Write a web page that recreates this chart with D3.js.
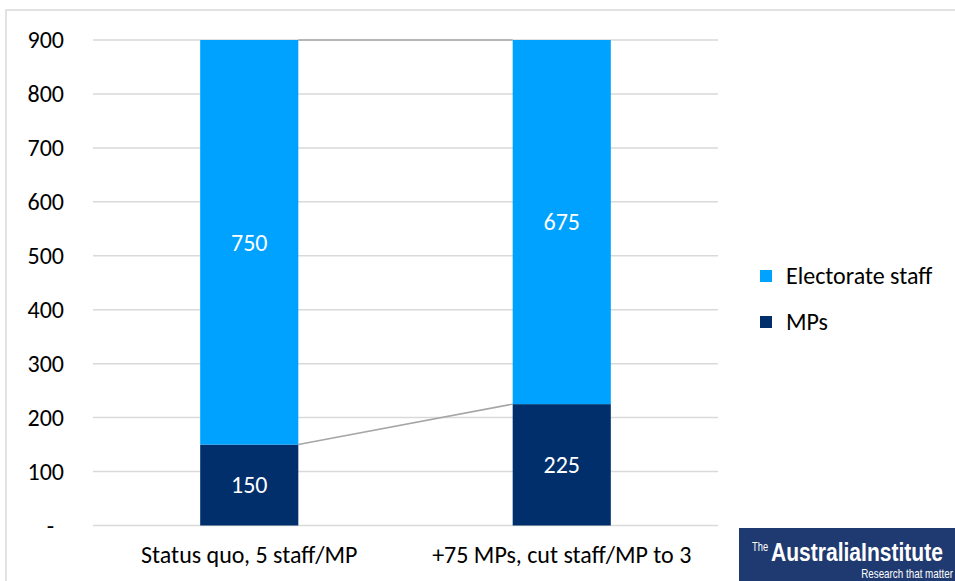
<!DOCTYPE html>
<html>
<head>
<meta charset="utf-8">
<script src="https://cdn.jsdelivr.net/npm/d3@7"></script>
<style>
  html, body { margin: 0; padding: 0; background: #fff; }
  svg { display: block; font-family: Calibri, Carlito, "Open Sans", "Noto Sans", sans-serif; }
</style>
</head>
<body>
<svg id="chart" width="955" height="581"></svg>
<script>
// Staff numbers under two scenarios
const categories = ["Status quo, 5 staff/MP", "+75 MPs, cut staff/MP to 3"];
const seriesNames = ["MPs", "Electorate staff"];
const mps = [150, 225];
const electorateStaff = [750, 675];
const yTicks = [0, 100, 200, 300, 400, 500, 600, 700, 800, 900];
const yTickLabels = ["-", "100", "200", "300", "400", "500", "600", "700", "800", "900"];
const colors = { "MPs": "#002f6c", "Electorate staff": "#00a2ff" };

const svg = d3.select("#chart");
const W = 955, H = 581;
const FS = 24;

// outer frame
svg.append("rect").attr("x", 6).attr("y", 10).attr("width", W + 10).attr("height", H + 10)
  .attr("fill", "#fff").attr("stroke", "#d9d9d9").attr("stroke-width", 1.5);

const x = d3.scaleBand().domain(categories).range([93, 718])
  .paddingInner(0.686).paddingOuter(0.343);
const y = d3.scaleLinear().domain([0, 900]).range([525.5, 40]);

// gridlines
svg.append("g").selectAll("line").data(yTicks).join("line")
  .attr("x1", 93).attr("x2", 718)
  .attr("y1", d => y(d)).attr("y2", d => y(d))
  .attr("stroke", "#d9d9d9").attr("stroke-width", 1.5);

// y axis labels
svg.append("g").selectAll("text").data(yTicks).join("text")
  .attr("x", d => d === 0 ? 54 : 64)
  .attr("y", d => y(d))
  .attr("dy", "0.35em")
  .attr("text-anchor", "end")
  .attr("font-size", FS).attr("fill", "#000")
  .text((d, i) => yTickLabels[i]);

// stacked data
const rows = categories.map((c, i) => ({ category: c, "MPs": mps[i], "Electorate staff": electorateStaff[i] }));
const stacked = d3.stack().keys(seriesNames)(rows);

// series lines between the bars
stacked.forEach(layer => {
  for (let i = 0; i < categories.length - 1; i++) {
    svg.append("line")
      .attr("x1", x(categories[i]) + x.bandwidth())
      .attr("x2", x(categories[i + 1]))
      .attr("y1", y(layer[i][1]))
      .attr("y2", y(layer[i + 1][1]))
      .attr("stroke", "#a6a6a6").attr("stroke-width", 1.5);
  }
});

// bars
const layers = svg.append("g").selectAll("g").data(stacked).join("g")
  .attr("fill", d => colors[d.key]);
layers.selectAll("rect").data(d => d).join("rect")
  .attr("x", d => x(d.data.category))
  .attr("width", x.bandwidth())
  .attr("y", d => y(d[1]))
  .attr("height", d => y(d[0]) - y(d[1]));

// value labels
layers.selectAll("text").data(d => d.map(v => ({ v, key: d.key }))).join("text")
  .attr("x", d => x(d.v.data.category) + x.bandwidth() / 2)
  .attr("y", d => y((d.v[0] + d.v[1]) / 2))
  .attr("dy", "0.35em")
  .attr("text-anchor", "middle")
  .attr("font-size", FS).attr("fill", "#fff")
  .text(d => d.v.data[d.key]);

// category labels
svg.append("g").selectAll("text").data(categories).join("text")
  .attr("x", d => x(d) + x.bandwidth() / 2)
  .attr("y", 563)
  .attr("text-anchor", "middle")
  .attr("font-size", FS).attr("fill", "#000")
  .text(d => d);

// legend
const legendItems = ["Electorate staff", "MPs"];
const legend = svg.append("g").selectAll("g").data(legendItems).join("g")
  .attr("transform", (d, i) => `translate(760, ${276 + i * 46})`);
legend.append("rect").attr("x", 0).attr("y", -6).attr("width", 12).attr("height", 12)
  .attr("fill", d => colors[d]);
legend.append("text").attr("x", 26).attr("y", 0).attr("dy", "0.35em")
  .attr("font-size", FS).attr("fill", "#000").text(d => d);

// publisher badge
const badge = svg.append("g").attr("transform", "translate(739, 528)");
badge.append("rect").attr("width", 230).attr("height", 60).attr("fill", "#1f3a70");
const logoFont = "'Liberation Sans', Arial, sans-serif";
badge.append("text").attr("transform", "translate(13,23) scale(0.72,1)")
  .attr("fill", "#fff").attr("font-family", logoFont)
  .attr("font-size", 13).text("The");
badge.append("text").attr("transform", "translate(32,33) scale(0.81,1)")
  .attr("fill", "#fff").attr("font-family", logoFont)
  .attr("font-weight", 700).attr("font-size", 26).text("AustraliaInstitute");
badge.append("text").attr("transform", "translate(214,50) scale(0.82,1)")
  .attr("text-anchor", "end").attr("fill", "#fff")
  .attr("font-size", 12).attr("font-family", logoFont)
  .text("Research that matter");
</script>
</body>
</html>
